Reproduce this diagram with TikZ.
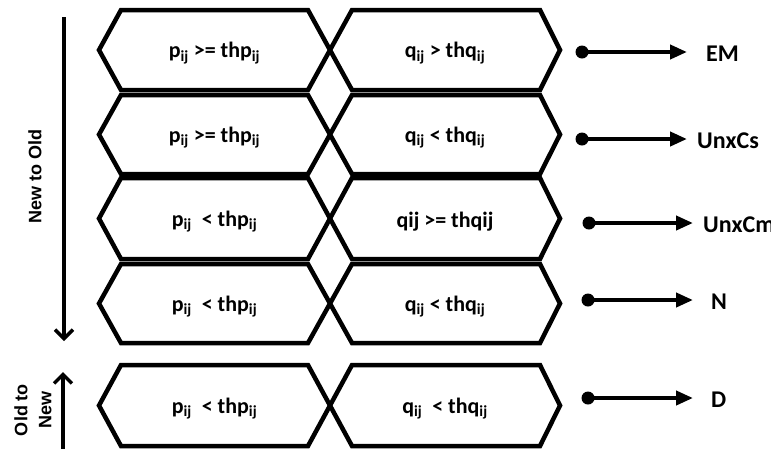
\documentclass[tikz,border=0pt]{standalone}
\usepackage{fontspec}
\setmainfont{Carlito}
\newfontfamily\arialfont{Liberation Sans}
\usetikzlibrary{arrows.meta}
\tikzset{
  hexline/.style={line width=4.5pt, line join=miter},
  hextext/.style={font=\fontsize{22}{26}\selectfont\bfseries, inner sep=0pt},
  labtext/.style={font=\fontsize{24}{28}\selectfont\bfseries, inner sep=0pt, anchor=west},
  dotnode/.style={circle, fill=black, minimum size=13pt, inner sep=0pt},
  conn/.style={line width=4pt, -{Triangle[length=17pt,width=14pt]}},
  sidearrow/.style={line width=3.5pt, -{Straight Barb[length=9pt,width=18pt]}},
  sidetext/.style={font=\arialfont\fontsize{18}{24}\selectfont\bfseries, rotate=90, align=center, inner sep=0pt}
}
\newcommand\myhexrow[5]{%
  \pgfmathsetmacro\ym{(#2+#3)/2}
  \draw[hexline] (99,\ym) -- (121,#2) -- (308,#2) -- (330,\ym) -- (308,#3) -- (121,#3) -- cycle;
  \draw[hexline] (330,\ym) -- (352,#2) -- (540,#2) -- (560,\ym) -- (540,#3) -- (352,#3) -- cycle;
  \node[hextext] (#1L) at (214.5,\ym+3) {#4};
  \node[hextext] (#1R) at (445,\ym+3) {#5};
}
\newcommand\subij{\textsubscript{ij}}
\begin{document}
\begin{tikzpicture}[x=1pt,y=-1pt]
\useasboundingbox (0,0) rectangle (771,448);
\myhexrow{r1}{10}{90}{p\subij{} >= thp\subij}{q\subij{} > thq\subij}
\myhexrow{r2}{95}{174}{p\subij{} >= thp\subij}{q\subij{} < thq\subij}
\myhexrow{r3}{178}{259}{p\subij{}\ \ < thp\subij}{qij >= thqij}
\myhexrow{r4}{264}{343}{p\subij{}\ \ < thp\subij}{q\subij{} < thq\subij}
\myhexrow{r5}{365}{446}{p\subij{}\ \ < thp\subij}{q\subij{}\ \ < thq\subij}
% outcome arrows
\node[dotnode] (d1) at (582,52) {};
\coordinate (t1) at (687,52);
\node[labtext] (l1) at (706,54) {EM};
\draw[conn] (d1.center) -- (t1);
\node[dotnode] (d2) at (582,139) {};
\coordinate (t2) at (687,139);
\node[labtext] (l2) at (697,141) {UnxCs};
\draw[conn] (d2.center) -- (t2);
\node[dotnode] (d3) at (589,223) {};
\coordinate (t3) at (693,223);
\node[labtext] (l3) at (703,225) {UnxCm};
\draw[conn] (d3.center) -- (t3);
\node[dotnode] (d4) at (588,300) {};
\coordinate (t4) at (693,300);
\node[labtext] (l4) at (711,302) {N};
\draw[conn] (d4.center) -- (t4);
\node[dotnode] (d5) at (588,398) {};
\coordinate (t5) at (693,398);
\node[labtext] (l5) at (711,400) {D};
\draw[conn] (d5.center) -- (t5);
% side arrows
\coordinate (ntoS) at (64,17);
\coordinate (ntoE) at (64,341);
\draw[sidearrow] (ntoS) -- (ntoE);
\node[sidetext] (nto) at (35,176) {New to Old};
\coordinate (otnS) at (63,449);
\coordinate (otnE) at (63,372);
\draw[sidearrow] (otnS) -- (otnE);
\node[sidetext] (otn) at (33,410) {Old to\\New};
\end{tikzpicture}
\end{document}
